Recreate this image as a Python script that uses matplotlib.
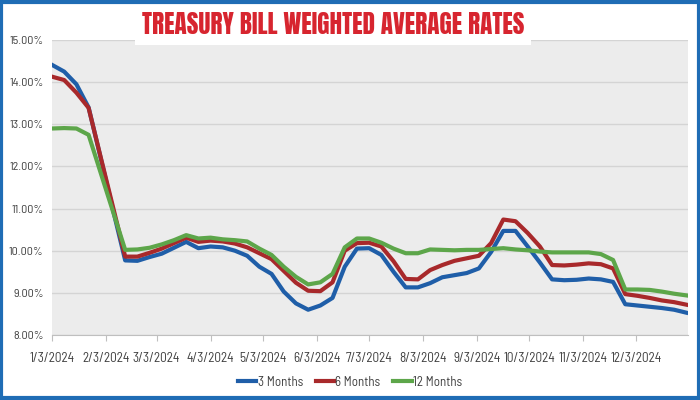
import matplotlib
matplotlib.use("Agg")
import matplotlib.pyplot as plt
from matplotlib import font_manager
from matplotlib.patches import Rectangle
import pandas as pd

dates = ["2024-01-03", "2024-01-10", "2024-01-17", "2024-01-24", "2024-01-31",
         "2024-02-07", "2024-02-14", "2024-02-21", "2024-02-28",
         "2024-03-06", "2024-03-13", "2024-03-20", "2024-03-27",
         "2024-04-03", "2024-04-10", "2024-04-17", "2024-04-24",
         "2024-05-01", "2024-05-08", "2024-05-15", "2024-05-22", "2024-05-29",
         "2024-06-05", "2024-06-12", "2024-06-19", "2024-06-26",
         "2024-07-03", "2024-07-10", "2024-07-17", "2024-07-24", "2024-07-31",
         "2024-08-07", "2024-08-14", "2024-08-21", "2024-08-28",
         "2024-09-04", "2024-09-11", "2024-09-18", "2024-09-25",
         "2024-10-02", "2024-10-09", "2024-10-16", "2024-10-23", "2024-10-30",
         "2024-11-06", "2024-11-13", "2024-11-20", "2024-11-27",
         "2024-12-04", "2024-12-11", "2024-12-18", "2024-12-25", "2025-01-01"]

rates_3m = [14.41, 14.25, 13.95, 13.40, 12.19, 10.97, 9.77, 9.76, 9.85, 9.93,
            10.07, 10.21, 10.06, 10.10, 10.08, 10.00, 9.88, 9.62, 9.45, 9.03,
            8.75, 8.60, 8.70, 8.88, 9.62, 10.05, 10.06, 9.90, 9.50, 9.13,
            9.13, 9.23, 9.37, 9.42, 9.47, 9.58, 9.97, 10.47, 10.47, 10.10,
            9.72, 9.32, 9.30, 9.31, 9.34, 9.32, 9.26, 8.73, 8.70, 8.67,
            8.64, 8.60, 8.53]

rates_6m = [14.13, 14.05, 13.75, 13.39, 12.21, 11.04, 9.86, 9.86, 9.95, 10.05,
            10.18, 10.31, 10.21, 10.24, 10.22, 10.17, 10.08, 9.94, 9.80, 9.52,
            9.24, 9.05, 9.04, 9.25, 10.00, 10.18, 10.19, 10.10, 9.75, 9.33,
            9.32, 9.54, 9.66, 9.76, 9.82, 9.88, 10.18, 10.74, 10.70, 10.42,
            10.10, 9.66, 9.65, 9.67, 9.70, 9.68, 9.58, 8.97, 8.93, 8.88,
            8.82, 8.78, 8.72]

rates_12m = [12.90, 12.91, 12.90, 12.75, 11.84, 10.93, 10.02, 10.03, 10.07, 10.15,
             10.25, 10.37, 10.29, 10.31, 10.27, 10.25, 10.22, 10.05, 9.90, 9.62,
             9.38, 9.20, 9.25, 9.45, 10.08, 10.29, 10.29, 10.19, 10.05, 9.94,
             9.94, 10.03, 10.02, 10.01, 10.02, 10.02, 10.04, 10.06, 10.03, 10.01,
             9.98, 9.96, 9.96, 9.96, 9.96, 9.92, 9.78, 9.08, 9.08, 9.07,
             9.03, 8.98, 8.94]

series_labels = ["3 Months", "6 Months", "12 Months"]
tick_dates = ["2024-01-03", "2024-02-03", "2024-03-03", "2024-04-03", "2024-05-03",
              "2024-06-03", "2024-07-03", "2024-08-03", "2024-09-03", "2024-10-03",
              "2024-11-03", "2024-12-03"]
tick_labels = ["1/3/2024", "2/3/2024", "3/3/2024", "4/3/2024", "5/3/2024", "6/3/2024",
               "7/3/2024", "8/3/2024", "9/3/2024", "10/3/2024", "11/3/2024", "12/3/2024"]
y_ticks = [8, 9, 10, 11, 12, 13, 14, 15]
title = "TREASURY BILL WEIGHTED AVERAGE RATES"

available = set(f.name for f in font_manager.fontManager.ttflist)


def pick(cands):
    for c in cands:
        if c in available:
            return c
    return "DejaVu Sans"


BODY = pick(["Barlow Semi Condensed", "Asap Condensed", "Archivo Narrow", "Carlito",
             "Liberation Sans Narrow", "DejaVu Sans"])
TITLE_FONT = pick(["Anton", "Oswald", "Bebas Neue", "Archivo Narrow", "DejaVu Sans"])
plt.rcParams["font.family"] = [BODY, "DejaVu Sans"]

fig = plt.figure(figsize=(7, 4), dpi=100)
renderer = fig.canvas.get_renderer()


def fit_size(s, family, target_px, weight="normal", base=10.0):
    t = fig.text(0, 0, s, fontsize=base, family=family, fontweight=weight)
    w = t.get_window_extent(renderer).width
    t.remove()
    return base * target_px / w


x_fs = fit_size("1/3/2024", BODY, 45)
y_fs = fit_size("14.00%", BODY, 34)
l_fs = fit_size("3 Months", BODY, 45)
t_fs = fit_size(title, TITLE_FONT, 380, weight="normal", base=20)

x = pd.to_datetime(dates)
fig.patch.set_facecolor("white")
ax = fig.add_axes([52 / 700, 1 - 335 / 400, (688 - 52) / 700, (335 - 40) / 400])
ax.set_facecolor("#ececec")

colors = ["#1f5ea8", "#a8292b", "#5da64a"]
for vals, c, lab in zip([rates_3m, rates_6m, rates_12m], colors, series_labels):
    ax.plot(x, vals, color=c, lw=3.0, label=lab, solid_joinstyle="round")

ax.set_ylim(8, 15)
ax.set_xlim(pd.Timestamp("2024-01-03"), pd.Timestamp("2025-01-02"))
ax.set_yticks(y_ticks)
ax.set_yticklabels([f"{v:.2f}%" for v in y_ticks])
ax.set_xticks(pd.to_datetime(tick_dates))
ax.set_xticklabels(tick_labels)
ax.grid(axis="y", color="#d4d4d4", lw=1.0)
ax.set_axisbelow(True)
for s in ["top", "right", "left"]:
    ax.spines[s].set_visible(False)
ax.spines["bottom"].set_color("#bfbfbf")
ax.tick_params(axis="y", length=0, labelsize=y_fs, labelcolor="#404040", pad=6)
ax.tick_params(axis="x", length=4, color="#bfbfbf", labelsize=x_fs, labelcolor="#404040", pad=8)

leg = fig.legend(loc="center", bbox_to_anchor=(350 / 700, 1 - 382 / 400), ncol=3,
                 frameon=False, fontsize=l_fs, handlelength=1.4, handletextpad=0.1,
                 columnspacing=1.0)
for t in leg.get_texts():
    t.set_color("#404040")

fig.text(333 / 700, 1 - 25 / 400, title, ha="center", va="center", color="#d7252f",
         fontsize=t_fs, family=[TITLE_FONT, "DejaVu Sans"],
         bbox=dict(facecolor="white", edgecolor="none", pad=5))

fig.patches.append(Rectangle((0.002, 0.004), 0.996, 0.992, transform=fig.transFigure,
                             fill=False, edgecolor="#1f6db5", lw=3, zorder=10))

fig.savefig("out.png", dpi=100, facecolor="white")
